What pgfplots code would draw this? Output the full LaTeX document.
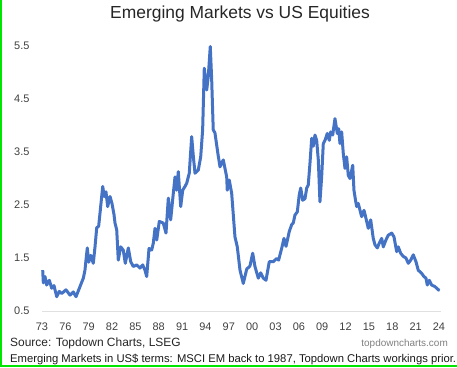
\documentclass[border=0pt]{standalone}
\usepackage{pgfplots}
\pgfplotsset{compat=1.18}
\usepackage{fontspec}
\setmainfont{Liberation Sans}
\definecolor{emblue}{RGB}{68,114,196}
\definecolor{ticktxt}{RGB}{64,64,64}
\definecolor{frameg}{RGB}{0,230,0}
\begin{document}
\begin{tikzpicture}[x=1bp,y=1bp]
\path[use as bounding box] (0,0) rectangle (457,367);
\fill[frameg] (0,0) rectangle (1.6,367);
\fill[frameg] (0,0) rectangle (457,2);
\node[font=\fontsize{17.5}{20}\selectfont, text=black!85] at (240,353) {Emerging Markets vs US Equities};
\begin{axis}[
  at={(42bp,56bp)}, anchor=south west,
  scale only axis,
  width=398.5bp, height=270.3bp,
  xmin=1973, xmax=2024.2,
  ymin=0.5, ymax=5.6,
  clip=false,
  axis y line*=left,
  y axis line style={draw=none},
  axis x line*=bottom,
  x axis line style={draw=black!12, line width=0.8bp, -},
  xtick={1973,1976,...,2024},
  xticklabels={73,76,79,82,85,88,91,94,97,00,03,06,09,12,15,18,21,24},
  ytick={0.5,1.5,...,5.5},
  major tick length=0pt,
  tick label style={font=\fontsize{11}{13}\selectfont, text=ticktxt},
  /pgf/number format/assume math mode=true,
  /pgf/number format/fixed, /pgf/number format/precision=1,
  /pgf/number format/fixed zerofill,
  xticklabel style={yshift=-8bp},
  yticklabel style={xshift=-9bp},
]
\addplot[emblue, line width=3bp, line join=round] coordinates {
(1973.09,1.27)(1973.17,1.03)(1973.39,1.15)(1973.6,0.99)(1973.94,1.08)(1974.25,0.93)(1974.54,0.98)(1974.89,0.77)(1975.22,0.87)(1975.53,0.83)(1976.08,0.90)(1976.6,0.80)(1977.02,0.86)(1977.37,0.77)(1977.88,0.96)(1978.31,1.12)(1978.52,1.27)(1978.65,1.46)(1978.82,1.69)(1979.0,1.42)(1979.26,1.55)(1979.59,1.40)(1979.81,1.71)(1980.03,2.07)(1980.28,2.10)(1980.67,2.66)(1980.8,2.85)(1981.0,2.66)(1981.22,2.75)(1981.44,2.47)(1981.74,2.66)(1981.99,2.53)(1982.25,2.32)(1982.38,2.16)(1982.6,2.03)(1982.8,1.46)(1983.11,1.71)(1983.44,1.65)(1983.7,1.40)(1984.09,1.69)(1984.4,1.43)(1984.73,1.34)(1985.17,1.37)(1985.59,1.31)(1985.94,1.37)(1986.23,1.27)(1986.45,1.15)(1986.75,1.68)(1987.09,1.65)(1987.3,1.78)(1987.52,2.06)(1987.74,1.84)(1988.07,2.19)(1988.58,2.16)(1988.93,1.97)(1989.23,2.63)(1989.53,2.22)(1989.87,2.72)(1990.09,3.03)(1990.3,2.78)(1990.51,3.13)(1990.82,2.47)(1991.08,2.78)(1991.37,2.85)(1991.59,2.91)(1991.92,3.10)(1992.23,3.79)(1992.44,3.42)(1992.66,3.10)(1993.08,3.16)(1993.39,3.41)(1993.64,3.92)(1993.85,5.08)(1994.16,4.67)(1994.36,4.92)(1994.62,5.49)(1994.8,4.87)(1995.0,3.92)(1995.22,3.86)(1995.65,3.42)(1995.87,3.22)(1996.29,3.35)(1996.73,3.03)(1996.8,2.78)(1997.06,2.97)(1997.37,2.72)(1997.79,1.90)(1998.09,1.71)(1998.44,1.27)(1998.86,1.02)(1999.3,1.29)(1999.72,1.35)(2000.07,1.59)(2000.36,1.34)(2000.79,1.12)(2001.1,1.22)(2001.43,1.12)(2001.78,1.08)(2002.2,1.43)(2002.71,1.43)(2003.15,1.49)(2003.4,1.46)(2003.79,1.68)(2004.09,1.87)(2004.35,1.72)(2004.77,2.0)(2005.08,2.13)(2005.28,2.16)(2005.5,2.31)(2005.8,2.37)(2006.05,2.69)(2006.24,2.82)(2006.49,2.59)(2006.79,2.62)(2007.01,2.82)(2007.21,2.88)(2007.43,3.29)(2007.65,3.76)(2007.85,3.61)(2008.07,3.82)(2008.29,3.72)(2008.5,3.35)(2008.71,2.56)(2008.93,3.03)(2009.14,3.66)(2009.36,3.72)(2009.65,3.85)(2009.91,3.72)(2010.09,3.88)(2010.35,3.82)(2010.64,4.13)(2010.94,3.85)(2011.12,3.94)(2011.28,3.66)(2011.5,3.88)(2011.71,3.47)(2011.93,3.19)(2012.14,3.41)(2012.35,3.06)(2012.57,3.0)(2012.92,3.25)(2013.08,2.78)(2013.28,2.59)(2013.43,2.47)(2013.63,2.53)(2014.07,2.28)(2014.37,2.40)(2014.62,2.25)(2014.92,2.06)(2015.23,2.22)(2015.56,1.87)(2015.78,1.75)(2016.08,1.69)(2016.33,1.78)(2016.64,1.87)(2016.85,1.71)(2017.19,1.84)(2017.49,1.93)(2017.93,1.97)(2018.22,1.90)(2018.57,1.62)(2018.77,1.71)(2019.08,1.59)(2019.42,1.53)(2019.76,1.50)(2020.06,1.40)(2020.37,1.46)(2020.7,1.56)(2021.05,1.43)(2021.34,1.27)(2021.78,1.21)(2022.07,1.15)(2022.33,1.12)(2022.5,0.99)(2022.76,1.08)(2023.06,0.99)(2023.49,0.96)(2023.91,0.90)(2024.1,0.89)
};
\end{axis}
\node[anchor=base west, font=\fontsize{12}{14}\selectfont, text=black!85, inner sep=0] at (10,21) {Source: Topdown Charts, LSEG};
\node[anchor=base east, font=\fontsize{10}{12}\selectfont, text=black!50, inner sep=0] at (448,21) {topdowncharts.com};
\node[anchor=base west, font=\fontsize{11.3}{13}\selectfont, text=black!90, inner sep=0] at (10,5) {Emerging Markets in US\$ terms: MSCI EM back to 1987, Topdown Charts workings prior.};
\end{tikzpicture}
\end{document}
